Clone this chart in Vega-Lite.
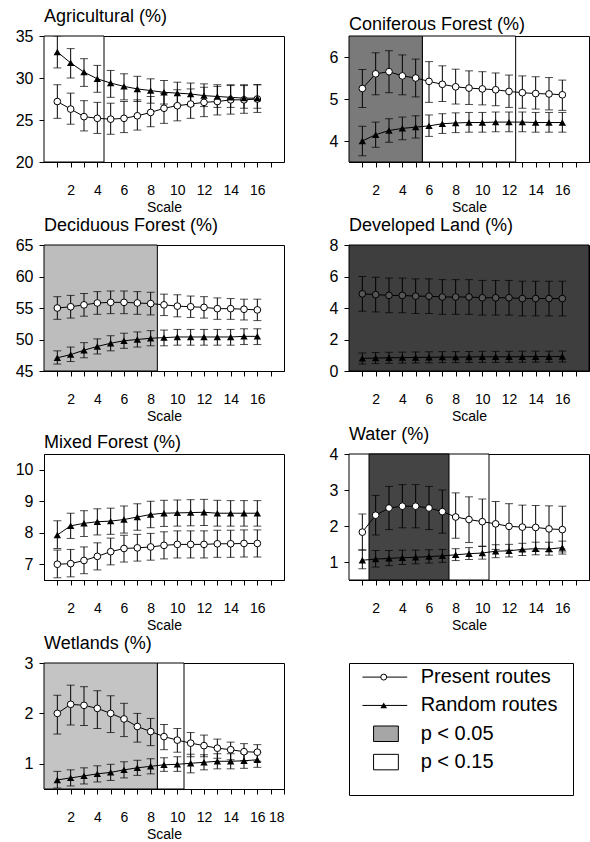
{
  "$schema": "https://vega.github.io/schema/vega-lite/v6.json",
  "padding": {"left": 13, "top": 7, "right": 0, "bottom": 0},
  "background": "white",
  "config": {
    "font": "Liberation Sans",
    "view": {"stroke": "black", "strokeWidth": 1},
    "title": {"anchor": "start", "frame": "group", "fontSize": 18, "fontWeight": "normal", "font": "Liberation Sans", "offset": 2, "color": "black"},
    "axis": {"domainColor": "black", "tickColor": "black", "labelColor": "black", "titleColor": "black", "labelFont": "Liberation Sans", "titleFont": "Liberation Sans", "titleFontSize": 14, "titleFontWeight": "normal", "grid": false, "tickSize": 5},
    "axisX": {"labelFontSize": 14, "labelExpr": "datum.value % 2 === 0 && datum.value > 0 && datum.value < 18 ? datum.label : ''", "labelPadding": 16, "titlePadding": 3, "labelFlush": true},
    "axisY": {"labelFontSize": 16, "labelPadding": 6, "minExtent": 30, "maxExtent": 30}
  },
  "datasets": {
    "agr": [
      {"route":"Random","scale":1,"mean":33.1,"lower":31.2,"upper":35.0},
      {"route":"Random","scale":2,"mean":31.8,"lower":30.0,"upper":33.5},
      {"route":"Random","scale":3,"mean":30.7,"lower":29.0,"upper":32.3},
      {"route":"Random","scale":4,"mean":29.9,"lower":28.3,"upper":31.5},
      {"route":"Random","scale":5,"mean":29.4,"lower":27.7,"upper":30.9},
      {"route":"Random","scale":6,"mean":29.0,"lower":27.4,"upper":30.5},
      {"route":"Random","scale":7,"mean":28.7,"lower":27.2,"upper":30.2},
      {"route":"Random","scale":8,"mean":28.5,"lower":27.0,"upper":29.9},
      {"route":"Random","scale":9,"mean":28.3,"lower":26.9,"upper":29.7},
      {"route":"Random","scale":10,"mean":28.2,"lower":26.8,"upper":29.5},
      {"route":"Random","scale":11,"mean":28.1,"lower":26.7,"upper":29.4},
      {"route":"Random","scale":12,"mean":27.9,"lower":26.6,"upper":29.3},
      {"route":"Random","scale":13,"mean":27.8,"lower":26.5,"upper":29.2},
      {"route":"Random","scale":14,"mean":27.7,"lower":26.5,"upper":29.2},
      {"route":"Random","scale":15,"mean":27.6,"lower":26.4,"upper":29.2},
      {"route":"Random","scale":16,"mean":27.6,"lower":26.4,"upper":29.2},
      {"route":"Present","scale":1,"mean":27.2,"lower":25.2,"upper":29.2},
      {"route":"Present","scale":2,"mean":26.3,"lower":24.5,"upper":28.2},
      {"route":"Present","scale":3,"mean":25.4,"lower":23.7,"upper":27.3},
      {"route":"Present","scale":4,"mean":25.2,"lower":23.4,"upper":27.1},
      {"route":"Present","scale":5,"mean":25.1,"lower":23.3,"upper":27.0},
      {"route":"Present","scale":6,"mean":25.2,"lower":23.5,"upper":27.2},
      {"route":"Present","scale":7,"mean":25.5,"lower":23.8,"upper":27.4},
      {"route":"Present","scale":8,"mean":25.9,"lower":24.2,"upper":27.8},
      {"route":"Present","scale":9,"mean":26.4,"lower":24.6,"upper":28.2},
      {"route":"Present","scale":10,"mean":26.7,"lower":24.9,"upper":28.6},
      {"route":"Present","scale":11,"mean":26.9,"lower":25.2,"upper":28.7},
      {"route":"Present","scale":12,"mean":27.1,"lower":25.4,"upper":28.9},
      {"route":"Present","scale":13,"mean":27.2,"lower":25.6,"upper":29.0},
      {"route":"Present","scale":14,"mean":27.4,"lower":25.7,"upper":29.1},
      {"route":"Present","scale":15,"mean":27.4,"lower":25.8,"upper":29.1},
      {"route":"Present","scale":16,"mean":27.5,"lower":25.9,"upper":29.2}
    ],
    "agr_sig": [{"level":"p<0.15","from":0,"to":4.5}],
    "con": [
      {"route":"Present","scale":1,"mean":5.25,"lower":4.8,"upper":5.7},
      {"route":"Present","scale":2,"mean":5.6,"lower":5.1,"upper":6.1},
      {"route":"Present","scale":3,"mean":5.65,"lower":5.15,"upper":6.15},
      {"route":"Present","scale":4,"mean":5.55,"lower":5.1,"upper":6.05},
      {"route":"Present","scale":5,"mean":5.5,"lower":5.05,"upper":5.95},
      {"route":"Present","scale":6,"mean":5.42,"lower":4.92,"upper":5.89},
      {"route":"Present","scale":7,"mean":5.35,"lower":4.94,"upper":5.79},
      {"route":"Present","scale":8,"mean":5.29,"lower":4.88,"upper":5.71},
      {"route":"Present","scale":9,"mean":5.26,"lower":4.87,"upper":5.67},
      {"route":"Present","scale":10,"mean":5.24,"lower":4.86,"upper":5.65},
      {"route":"Present","scale":11,"mean":5.22,"lower":4.84,"upper":5.62},
      {"route":"Present","scale":12,"mean":5.18,"lower":4.8,"upper":5.57},
      {"route":"Present","scale":13,"mean":5.15,"lower":4.78,"upper":5.55},
      {"route":"Present","scale":14,"mean":5.13,"lower":4.76,"upper":5.53},
      {"route":"Present","scale":15,"mean":5.12,"lower":4.74,"upper":5.51},
      {"route":"Present","scale":16,"mean":5.1,"lower":4.73,"upper":5.45},
      {"route":"Random","scale":1,"mean":4.0,"lower":3.65,"upper":4.35},
      {"route":"Random","scale":2,"mean":4.15,"lower":3.85,"upper":4.45},
      {"route":"Random","scale":3,"mean":4.25,"lower":3.97,"upper":4.53},
      {"route":"Random","scale":4,"mean":4.3,"lower":4.03,"upper":4.57},
      {"route":"Random","scale":5,"mean":4.33,"lower":4.07,"upper":4.6},
      {"route":"Random","scale":6,"mean":4.36,"lower":4.11,"upper":4.62},
      {"route":"Random","scale":7,"mean":4.41,"lower":4.18,"upper":4.65},
      {"route":"Random","scale":8,"mean":4.43,"lower":4.2,"upper":4.67},
      {"route":"Random","scale":9,"mean":4.44,"lower":4.21,"upper":4.68},
      {"route":"Random","scale":10,"mean":4.44,"lower":4.21,"upper":4.68},
      {"route":"Random","scale":11,"mean":4.45,"lower":4.22,"upper":4.69},
      {"route":"Random","scale":12,"mean":4.45,"lower":4.22,"upper":4.69},
      {"route":"Random","scale":13,"mean":4.45,"lower":4.22,"upper":4.69},
      {"route":"Random","scale":14,"mean":4.44,"lower":4.21,"upper":4.68},
      {"route":"Random","scale":15,"mean":4.44,"lower":4.21,"upper":4.68},
      {"route":"Random","scale":16,"mean":4.44,"lower":4.21,"upper":4.68}
    ],
    "con_sig": [{"level":"p<0.15","from":5.5,"to":12.5},{"level":"p<0.05","from":0,"to":5.5}],
    "dec": [
      {"route":"Present","scale":1,"mean":55.0,"lower":53.2,"upper":56.8},
      {"route":"Present","scale":2,"mean":55.2,"lower":53.4,"upper":57.0},
      {"route":"Present","scale":3,"mean":55.5,"lower":53.7,"upper":57.3},
      {"route":"Present","scale":4,"mean":55.8,"lower":54.0,"upper":57.6},
      {"route":"Present","scale":5,"mean":55.9,"lower":54.1,"upper":57.7},
      {"route":"Present","scale":6,"mean":55.9,"lower":54.1,"upper":57.7},
      {"route":"Present","scale":7,"mean":55.8,"lower":54.0,"upper":57.6},
      {"route":"Present","scale":8,"mean":55.7,"lower":53.9,"upper":57.5},
      {"route":"Present","scale":9,"mean":55.5,"lower":53.8,"upper":57.2},
      {"route":"Present","scale":10,"mean":55.3,"lower":53.6,"upper":57.1},
      {"route":"Present","scale":11,"mean":55.2,"lower":53.5,"upper":56.9},
      {"route":"Present","scale":12,"mean":55.1,"lower":53.4,"upper":56.8},
      {"route":"Present","scale":13,"mean":54.9,"lower":53.2,"upper":56.6},
      {"route":"Present","scale":14,"mean":54.9,"lower":53.2,"upper":56.5},
      {"route":"Present","scale":15,"mean":54.8,"lower":53.1,"upper":56.4},
      {"route":"Present","scale":16,"mean":54.7,"lower":53.0,"upper":56.4},
      {"route":"Random","scale":1,"mean":47.1,"lower":46.1,"upper":48.2},
      {"route":"Random","scale":2,"mean":47.6,"lower":46.5,"upper":48.8},
      {"route":"Random","scale":3,"mean":48.3,"lower":47.1,"upper":49.5},
      {"route":"Random","scale":4,"mean":48.9,"lower":47.7,"upper":50.1},
      {"route":"Random","scale":5,"mean":49.4,"lower":48.2,"upper":50.6},
      {"route":"Random","scale":6,"mean":49.8,"lower":48.6,"upper":51.0},
      {"route":"Random","scale":7,"mean":50.0,"lower":48.8,"upper":51.2},
      {"route":"Random","scale":8,"mean":50.2,"lower":49.0,"upper":51.4},
      {"route":"Random","scale":9,"mean":50.3,"lower":49.0,"upper":51.5},
      {"route":"Random","scale":10,"mean":50.4,"lower":49.1,"upper":51.6},
      {"route":"Random","scale":11,"mean":50.4,"lower":49.1,"upper":51.6},
      {"route":"Random","scale":12,"mean":50.4,"lower":49.1,"upper":51.6},
      {"route":"Random","scale":13,"mean":50.4,"lower":49.1,"upper":51.6},
      {"route":"Random","scale":14,"mean":50.4,"lower":49.1,"upper":51.6},
      {"route":"Random","scale":15,"mean":50.5,"lower":49.2,"upper":51.7},
      {"route":"Random","scale":16,"mean":50.5,"lower":49.2,"upper":51.7}
    ],
    "dec_sig": [{"level":"p<0.05","from":0,"to":8.5}],
    "dev": [
      {"route":"Present","scale":1,"mean":4.9,"lower":3.8,"upper":6.0},
      {"route":"Present","scale":2,"mean":4.85,"lower":3.75,"upper":5.95},
      {"route":"Present","scale":3,"mean":4.8,"lower":3.7,"upper":5.9},
      {"route":"Present","scale":4,"mean":4.8,"lower":3.7,"upper":5.9},
      {"route":"Present","scale":5,"mean":4.75,"lower":3.65,"upper":5.85},
      {"route":"Present","scale":6,"mean":4.75,"lower":3.65,"upper":5.85},
      {"route":"Present","scale":7,"mean":4.7,"lower":3.6,"upper":5.8},
      {"route":"Present","scale":8,"mean":4.7,"lower":3.6,"upper":5.8},
      {"route":"Present","scale":9,"mean":4.7,"lower":3.6,"upper":5.8},
      {"route":"Present","scale":10,"mean":4.65,"lower":3.55,"upper":5.75},
      {"route":"Present","scale":11,"mean":4.65,"lower":3.55,"upper":5.75},
      {"route":"Present","scale":12,"mean":4.65,"lower":3.55,"upper":5.75},
      {"route":"Present","scale":13,"mean":4.6,"lower":3.5,"upper":5.7},
      {"route":"Present","scale":14,"mean":4.6,"lower":3.5,"upper":5.7},
      {"route":"Present","scale":15,"mean":4.6,"lower":3.5,"upper":5.7},
      {"route":"Present","scale":16,"mean":4.6,"lower":3.5,"upper":5.7},
      {"route":"Random","scale":1,"mean":0.8,"lower":0.45,"upper":1.15},
      {"route":"Random","scale":2,"mean":0.82,"lower":0.47,"upper":1.17},
      {"route":"Random","scale":3,"mean":0.84,"lower":0.49,"upper":1.19},
      {"route":"Random","scale":4,"mean":0.85,"lower":0.5,"upper":1.2},
      {"route":"Random","scale":5,"mean":0.86,"lower":0.51,"upper":1.21},
      {"route":"Random","scale":6,"mean":0.87,"lower":0.52,"upper":1.22},
      {"route":"Random","scale":7,"mean":0.88,"lower":0.53,"upper":1.23},
      {"route":"Random","scale":8,"mean":0.88,"lower":0.53,"upper":1.23},
      {"route":"Random","scale":9,"mean":0.89,"lower":0.54,"upper":1.24},
      {"route":"Random","scale":10,"mean":0.9,"lower":0.55,"upper":1.25},
      {"route":"Random","scale":11,"mean":0.9,"lower":0.55,"upper":1.25},
      {"route":"Random","scale":12,"mean":0.9,"lower":0.55,"upper":1.25},
      {"route":"Random","scale":13,"mean":0.91,"lower":0.56,"upper":1.26},
      {"route":"Random","scale":14,"mean":0.91,"lower":0.56,"upper":1.26},
      {"route":"Random","scale":15,"mean":0.91,"lower":0.56,"upper":1.26},
      {"route":"Random","scale":16,"mean":0.92,"lower":0.57,"upper":1.27}
    ],
    "dev_sig": [{"level":"p<0.05","from":0,"to":18}],
    "mix": [
      {"route":"Random","scale":1,"mean":7.93,"lower":7.5,"upper":8.38},
      {"route":"Random","scale":2,"mean":8.22,"lower":7.82,"upper":8.62},
      {"route":"Random","scale":3,"mean":8.3,"lower":7.88,"upper":8.7},
      {"route":"Random","scale":4,"mean":8.35,"lower":7.93,"upper":8.76},
      {"route":"Random","scale":5,"mean":8.37,"lower":7.95,"upper":8.78},
      {"route":"Random","scale":6,"mean":8.42,"lower":7.99,"upper":8.85},
      {"route":"Random","scale":7,"mean":8.5,"lower":8.08,"upper":8.92},
      {"route":"Random","scale":8,"mean":8.58,"lower":8.16,"upper":9.0},
      {"route":"Random","scale":9,"mean":8.62,"lower":8.2,"upper":9.03},
      {"route":"Random","scale":10,"mean":8.63,"lower":8.21,"upper":9.04},
      {"route":"Random","scale":11,"mean":8.64,"lower":8.22,"upper":9.05},
      {"route":"Random","scale":12,"mean":8.65,"lower":8.23,"upper":9.06},
      {"route":"Random","scale":13,"mean":8.62,"lower":8.21,"upper":9.03},
      {"route":"Random","scale":14,"mean":8.62,"lower":8.21,"upper":9.02},
      {"route":"Random","scale":15,"mean":8.62,"lower":8.21,"upper":9.02},
      {"route":"Random","scale":16,"mean":8.62,"lower":8.21,"upper":9.02},
      {"route":"Present","scale":1,"mean":7.0,"lower":6.57,"upper":7.45},
      {"route":"Present","scale":2,"mean":7.02,"lower":6.6,"upper":7.47},
      {"route":"Present","scale":3,"mean":7.12,"lower":6.7,"upper":7.55},
      {"route":"Present","scale":4,"mean":7.25,"lower":6.82,"upper":7.68},
      {"route":"Present","scale":5,"mean":7.4,"lower":6.98,"upper":7.83},
      {"route":"Present","scale":6,"mean":7.5,"lower":7.07,"upper":7.92},
      {"route":"Present","scale":7,"mean":7.52,"lower":7.1,"upper":7.95},
      {"route":"Present","scale":8,"mean":7.55,"lower":7.13,"upper":7.98},
      {"route":"Present","scale":9,"mean":7.6,"lower":7.17,"upper":8.03},
      {"route":"Present","scale":10,"mean":7.63,"lower":7.2,"upper":8.06},
      {"route":"Present","scale":11,"mean":7.63,"lower":7.2,"upper":8.06},
      {"route":"Present","scale":12,"mean":7.63,"lower":7.2,"upper":8.06},
      {"route":"Present","scale":13,"mean":7.65,"lower":7.22,"upper":8.08},
      {"route":"Present","scale":14,"mean":7.65,"lower":7.22,"upper":8.08},
      {"route":"Present","scale":15,"mean":7.66,"lower":7.23,"upper":8.09},
      {"route":"Present","scale":16,"mean":7.66,"lower":7.23,"upper":8.09}
    ],
    "wat": [
      {"route":"Present","scale":1,"mean":1.83,"lower":1.33,"upper":2.33},
      {"route":"Present","scale":2,"mean":2.3,"lower":1.75,"upper":2.85},
      {"route":"Present","scale":3,"mean":2.5,"lower":1.9,"upper":3.1},
      {"route":"Present","scale":4,"mean":2.55,"lower":1.95,"upper":3.15},
      {"route":"Present","scale":5,"mean":2.55,"lower":1.95,"upper":3.15},
      {"route":"Present","scale":6,"mean":2.5,"lower":1.9,"upper":3.1},
      {"route":"Present","scale":7,"mean":2.4,"lower":1.8,"upper":3.0},
      {"route":"Present","scale":8,"mean":2.25,"lower":1.66,"upper":2.92},
      {"route":"Present","scale":9,"mean":2.18,"lower":1.54,"upper":2.81},
      {"route":"Present","scale":10,"mean":2.12,"lower":1.44,"upper":2.75},
      {"route":"Present","scale":11,"mean":2.06,"lower":1.35,"upper":2.68},
      {"route":"Present","scale":12,"mean":1.99,"lower":1.33,"upper":2.62},
      {"route":"Present","scale":13,"mean":1.97,"lower":1.3,"upper":2.58},
      {"route":"Present","scale":14,"mean":1.96,"lower":1.3,"upper":2.57},
      {"route":"Present","scale":15,"mean":1.92,"lower":1.29,"upper":2.56},
      {"route":"Present","scale":16,"mean":1.9,"lower":1.28,"upper":2.55},
      {"route":"Random","scale":1,"mean":1.05,"lower":0.81,"upper":1.33},
      {"route":"Random","scale":2,"mean":1.08,"lower":0.86,"upper":1.32},
      {"route":"Random","scale":3,"mean":1.1,"lower":0.9,"upper":1.32},
      {"route":"Random","scale":4,"mean":1.12,"lower":0.93,"upper":1.33},
      {"route":"Random","scale":5,"mean":1.13,"lower":0.95,"upper":1.33},
      {"route":"Random","scale":6,"mean":1.15,"lower":0.97,"upper":1.34},
      {"route":"Random","scale":7,"mean":1.17,"lower":0.99,"upper":1.35},
      {"route":"Random","scale":8,"mean":1.2,"lower":1.04,"upper":1.37},
      {"route":"Random","scale":9,"mean":1.23,"lower":1.07,"upper":1.4},
      {"route":"Random","scale":10,"mean":1.25,"lower":1.08,"upper":1.43},
      {"route":"Random","scale":11,"mean":1.3,"lower":1.12,"upper":1.48},
      {"route":"Random","scale":12,"mean":1.31,"lower":1.14,"upper":1.49},
      {"route":"Random","scale":13,"mean":1.35,"lower":1.18,"upper":1.52},
      {"route":"Random","scale":14,"mean":1.37,"lower":1.2,"upper":1.55},
      {"route":"Random","scale":15,"mean":1.36,"lower":1.19,"upper":1.55},
      {"route":"Random","scale":16,"mean":1.4,"lower":1.22,"upper":1.58}
    ],
    "wat_sig": [{"level":"p<0.15","from":0,"to":10.5},{"level":"p<0.05","from":1.5,"to":7.5}],
    "wet": [
      {"route":"Present","scale":1,"mean":2.0,"lower":1.59,"upper":2.36},
      {"route":"Present","scale":2,"mean":2.18,"lower":1.77,"upper":2.56},
      {"route":"Present","scale":3,"mean":2.16,"lower":1.76,"upper":2.53},
      {"route":"Present","scale":4,"mean":2.1,"lower":1.7,"upper":2.45},
      {"route":"Present","scale":5,"mean":2.0,"lower":1.62,"upper":2.35},
      {"route":"Present","scale":6,"mean":1.89,"lower":1.54,"upper":2.2},
      {"route":"Present","scale":7,"mean":1.74,"lower":1.43,"upper":2.0},
      {"route":"Present","scale":8,"mean":1.64,"lower":1.36,"upper":1.9},
      {"route":"Present","scale":9,"mean":1.54,"lower":1.28,"upper":1.78},
      {"route":"Present","scale":10,"mean":1.47,"lower":1.23,"upper":1.7},
      {"route":"Present","scale":11,"mean":1.41,"lower":1.14,"upper":1.62},
      {"route":"Present","scale":12,"mean":1.36,"lower":1.14,"upper":1.57},
      {"route":"Present","scale":13,"mean":1.31,"lower":1.11,"upper":1.49},
      {"route":"Present","scale":14,"mean":1.28,"lower":1.08,"upper":1.43},
      {"route":"Present","scale":15,"mean":1.24,"lower":1.06,"upper":1.4},
      {"route":"Present","scale":16,"mean":1.23,"lower":1.05,"upper":1.38},
      {"route":"Random","scale":1,"mean":0.68,"lower":0.52,"upper":0.85},
      {"route":"Random","scale":2,"mean":0.72,"lower":0.56,"upper":0.88},
      {"route":"Random","scale":3,"mean":0.76,"lower":0.6,"upper":0.92},
      {"route":"Random","scale":4,"mean":0.8,"lower":0.64,"upper":0.96},
      {"route":"Random","scale":5,"mean":0.83,"lower":0.67,"upper":0.99},
      {"route":"Random","scale":6,"mean":0.88,"lower":0.72,"upper":1.04},
      {"route":"Random","scale":7,"mean":0.92,"lower":0.77,"upper":1.07},
      {"route":"Random","scale":8,"mean":0.95,"lower":0.8,"upper":1.1},
      {"route":"Random","scale":9,"mean":0.98,"lower":0.85,"upper":1.12},
      {"route":"Random","scale":10,"mean":0.99,"lower":0.85,"upper":1.14},
      {"route":"Random","scale":11,"mean":1.01,"lower":0.82,"upper":1.19},
      {"route":"Random","scale":12,"mean":1.03,"lower":0.88,"upper":1.18},
      {"route":"Random","scale":13,"mean":1.05,"lower":0.9,"upper":1.2},
      {"route":"Random","scale":14,"mean":1.05,"lower":0.9,"upper":1.2},
      {"route":"Random","scale":15,"mean":1.06,"lower":0.91,"upper":1.21},
      {"route":"Random","scale":16,"mean":1.08,"lower":0.93,"upper":1.23}
    ],
    "wet_sig": [{"level":"p<0.15","from":8.5,"to":10.5},{"level":"p<0.05","from":0,"to":8.5}],
    "legend": [
      {"label":"Present routes","kind":"Present"},
      {"label":"Random routes","kind":"Random"},
      {"label":"p < 0.05","kind":"p05"},
      {"label":"p < 0.15","kind":"p15"}
    ]
  },
  "columns": 2,
  "spacing": {"row": 1, "column": 33},
  "concat": [
    {
      "width": 240, "height": 126,
      "title": "Agricultural (%)",
      "layer": [
        {"data": {"name": "agr_sig"}, "mark": {"type": "rect", "fill": "white", "stroke": "black", "strokeWidth": 1}, "encoding": {"x": {"field": "from", "type": "quantitative", "title": "Scale", "scale": {"domain": [0, 18], "nice": false}, "axis": {"values": [1,2,3,4,5,6,7,8,9,10,11,12,13,14,15,16,17]}}, "x2": {"field": "to"}}},
        {"data": {"name": "agr"}, "mark": {"type": "line", "color": "black", "strokeWidth": 1}, "encoding": {"x": {"field": "scale", "type": "quantitative", "title": "Scale", "axis": {"values": [1,2,3,4,5,6,7,8,9,10,11,12,13,14,15,16,17]}}, "y": {"field": "mean", "type": "quantitative", "title": null, "scale": {"domain": [20, 35], "nice": false, "zero": false}, "axis": {"values": [20, 25, 30, 35], "format": "d"}}, "detail": {"field": "route"}}},
        {"data": {"name": "agr"}, "mark": {"type": "errorbar", "color": "black", "ticks": {"size": 8}, "clip": true}, "encoding": {"x": {"field": "scale", "type": "quantitative", "title": "Scale", "axis": {"values": [1,2,3,4,5,6,7,8,9,10,11,12,13,14,15,16,17]}}, "y": {"field": "lower", "type": "quantitative", "title": null, "axis": {"values": [20, 25, 30, 35], "format": "d"}}, "y2": {"field": "upper"}}},
        {"data": {"name": "agr"}, "transform": [{"filter": "datum.route === 'Present'"}], "mark": {"type": "point", "shape": "circle", "filled": true, "fill": "white", "stroke": "black", "strokeWidth": 1, "size": 45, "opacity": 1}, "encoding": {"x": {"field": "scale", "type": "quantitative", "title": "Scale", "axis": {"values": [1,2,3,4,5,6,7,8,9,10,11,12,13,14,15,16,17]}}, "y": {"field": "mean", "type": "quantitative", "title": null, "axis": {"values": [20, 25, 30, 35], "format": "d"}}}},
        {"data": {"name": "agr"}, "transform": [{"filter": "datum.route === 'Random'"}], "mark": {"type": "point", "shape": "triangle-up", "filled": true, "color": "black", "size": 55, "opacity": 1}, "encoding": {"x": {"field": "scale", "type": "quantitative", "title": "Scale", "axis": {"values": [1,2,3,4,5,6,7,8,9,10,11,12,13,14,15,16,17]}}, "y": {"field": "mean", "type": "quantitative", "title": null, "axis": {"values": [20, 25, 30, 35], "format": "d"}}}}
      ]
    },
    {
      "width": 240, "height": 126,
      "title": "Coniferous Forest (%)",
      "layer": [
        {"data": {"name": "con_sig"}, "transform": [{"filter": "datum.level === 'p<0.15'"}], "mark": {"type": "rect", "fill": "white", "stroke": "black", "strokeWidth": 1}, "encoding": {"x": {"field": "from", "type": "quantitative", "title": "Scale", "scale": {"domain": [0, 18], "nice": false}, "axis": {"values": [1,2,3,4,5,6,7,8,9,10,11,12,13,14,15,16,17]}}, "x2": {"field": "to"}}},
        {"data": {"name": "con_sig"}, "transform": [{"filter": "datum.level === 'p<0.05'"}], "mark": {"type": "rect", "fill": "#7a7a7a", "stroke": "black", "strokeWidth": 1}, "encoding": {"x": {"field": "from", "type": "quantitative", "title": "Scale", "axis": {"values": [1,2,3,4,5,6,7,8,9,10,11,12,13,14,15,16,17]}}, "x2": {"field": "to"}}},
        {"data": {"name": "con"}, "mark": {"type": "line", "color": "black", "strokeWidth": 1}, "encoding": {"x": {"field": "scale", "type": "quantitative", "title": "Scale", "axis": {"values": [1,2,3,4,5,6,7,8,9,10,11,12,13,14,15,16,17]}}, "y": {"field": "mean", "type": "quantitative", "title": null, "scale": {"domain": [3.5, 6.5], "nice": false, "zero": false}, "axis": {"values": [4, 5, 6], "format": "d"}}, "detail": {"field": "route"}}},
        {"data": {"name": "con"}, "mark": {"type": "errorbar", "color": "black", "ticks": {"size": 8}}, "encoding": {"x": {"field": "scale", "type": "quantitative", "title": "Scale", "axis": {"values": [1,2,3,4,5,6,7,8,9,10,11,12,13,14,15,16,17]}}, "y": {"field": "lower", "type": "quantitative", "title": null, "axis": {"values": [4, 5, 6], "format": "d"}}, "y2": {"field": "upper"}}},
        {"data": {"name": "con"}, "transform": [{"filter": "datum.route === 'Present'"}], "mark": {"type": "point", "shape": "circle", "filled": true, "fill": "white", "stroke": "black", "strokeWidth": 1, "size": 45, "opacity": 1}, "encoding": {"x": {"field": "scale", "type": "quantitative", "title": "Scale", "axis": {"values": [1,2,3,4,5,6,7,8,9,10,11,12,13,14,15,16,17]}}, "y": {"field": "mean", "type": "quantitative", "title": null, "axis": {"values": [4, 5, 6], "format": "d"}}}},
        {"data": {"name": "con"}, "transform": [{"filter": "datum.route === 'Random'"}], "mark": {"type": "point", "shape": "triangle-up", "filled": true, "color": "black", "size": 55, "opacity": 1}, "encoding": {"x": {"field": "scale", "type": "quantitative", "title": "Scale", "axis": {"values": [1,2,3,4,5,6,7,8,9,10,11,12,13,14,15,16,17]}}, "y": {"field": "mean", "type": "quantitative", "title": null, "axis": {"values": [4, 5, 6], "format": "d"}}}}
      ]
    },
    {
      "width": 240, "height": 126,
      "title": "Deciduous Forest (%)",
      "layer": [
        {"data": {"name": "dec_sig"}, "mark": {"type": "rect", "fill": "#bdbdbd", "stroke": "black", "strokeWidth": 1}, "encoding": {"x": {"field": "from", "type": "quantitative", "title": "Scale", "scale": {"domain": [0, 18], "nice": false}, "axis": {"values": [1,2,3,4,5,6,7,8,9,10,11,12,13,14,15,16,17]}}, "x2": {"field": "to"}}},
        {"data": {"name": "dec"}, "mark": {"type": "line", "color": "black", "strokeWidth": 1}, "encoding": {"x": {"field": "scale", "type": "quantitative", "title": "Scale", "axis": {"values": [1,2,3,4,5,6,7,8,9,10,11,12,13,14,15,16,17]}}, "y": {"field": "mean", "type": "quantitative", "title": null, "scale": {"domain": [45, 65], "nice": false, "zero": false}, "axis": {"values": [45, 50, 55, 60, 65], "format": "d"}}, "detail": {"field": "route"}}},
        {"data": {"name": "dec"}, "mark": {"type": "errorbar", "color": "black", "ticks": {"size": 8}}, "encoding": {"x": {"field": "scale", "type": "quantitative", "title": "Scale", "axis": {"values": [1,2,3,4,5,6,7,8,9,10,11,12,13,14,15,16,17]}}, "y": {"field": "lower", "type": "quantitative", "title": null, "axis": {"values": [45, 50, 55, 60, 65], "format": "d"}}, "y2": {"field": "upper"}}},
        {"data": {"name": "dec"}, "transform": [{"filter": "datum.route === 'Present'"}], "mark": {"type": "point", "shape": "circle", "filled": true, "fill": "white", "stroke": "black", "strokeWidth": 1, "size": 45, "opacity": 1}, "encoding": {"x": {"field": "scale", "type": "quantitative", "title": "Scale", "axis": {"values": [1,2,3,4,5,6,7,8,9,10,11,12,13,14,15,16,17]}}, "y": {"field": "mean", "type": "quantitative", "title": null, "axis": {"values": [45, 50, 55, 60, 65], "format": "d"}}}},
        {"data": {"name": "dec"}, "transform": [{"filter": "datum.route === 'Random'"}], "mark": {"type": "point", "shape": "triangle-up", "filled": true, "color": "black", "size": 55, "opacity": 1}, "encoding": {"x": {"field": "scale", "type": "quantitative", "title": "Scale", "axis": {"values": [1,2,3,4,5,6,7,8,9,10,11,12,13,14,15,16,17]}}, "y": {"field": "mean", "type": "quantitative", "title": null, "axis": {"values": [45, 50, 55, 60, 65], "format": "d"}}}}
      ]
    },
    {
      "width": 240, "height": 126,
      "title": "Developed Land (%)",
      "layer": [
        {"data": {"name": "dev_sig"}, "mark": {"type": "rect", "fill": "#3e3e3e", "stroke": "black", "strokeWidth": 1}, "encoding": {"x": {"field": "from", "type": "quantitative", "title": "Scale", "scale": {"domain": [0, 18], "nice": false}, "axis": {"values": [1,2,3,4,5,6,7,8,9,10,11,12,13,14,15,16,17]}}, "x2": {"field": "to"}}},
        {"data": {"name": "dev"}, "mark": {"type": "line", "color": "black", "strokeWidth": 1}, "encoding": {"x": {"field": "scale", "type": "quantitative", "title": "Scale", "axis": {"values": [1,2,3,4,5,6,7,8,9,10,11,12,13,14,15,16,17]}}, "y": {"field": "mean", "type": "quantitative", "title": null, "scale": {"domain": [0, 8], "nice": false}, "axis": {"values": [0, 2, 4, 6, 8], "format": "d"}}, "detail": {"field": "route"}}},
        {"data": {"name": "dev"}, "mark": {"type": "errorbar", "color": "black", "ticks": {"size": 8}}, "encoding": {"x": {"field": "scale", "type": "quantitative", "title": "Scale", "axis": {"values": [1,2,3,4,5,6,7,8,9,10,11,12,13,14,15,16,17]}}, "y": {"field": "lower", "type": "quantitative", "title": null, "axis": {"values": [0, 2, 4, 6, 8], "format": "d"}}, "y2": {"field": "upper"}}},
        {"data": {"name": "dev"}, "transform": [{"filter": "datum.route === 'Present'"}], "mark": {"type": "point", "shape": "circle", "filled": true, "fill": "#555555", "stroke": "black", "strokeWidth": 1, "size": 45, "opacity": 1}, "encoding": {"x": {"field": "scale", "type": "quantitative", "title": "Scale", "axis": {"values": [1,2,3,4,5,6,7,8,9,10,11,12,13,14,15,16,17]}}, "y": {"field": "mean", "type": "quantitative", "title": null, "axis": {"values": [0, 2, 4, 6, 8], "format": "d"}}}},
        {"data": {"name": "dev"}, "transform": [{"filter": "datum.route === 'Random'"}], "mark": {"type": "point", "shape": "triangle-up", "filled": true, "color": "black", "size": 55, "opacity": 1}, "encoding": {"x": {"field": "scale", "type": "quantitative", "title": "Scale", "axis": {"values": [1,2,3,4,5,6,7,8,9,10,11,12,13,14,15,16,17]}}, "y": {"field": "mean", "type": "quantitative", "title": null, "axis": {"values": [0, 2, 4, 6, 8], "format": "d"}}}}
      ]
    },
    {
      "width": 240, "height": 126,
      "title": "Mixed Forest (%)",
      "layer": [
        {"data": {"name": "mix"}, "mark": {"type": "line", "color": "black", "strokeWidth": 1}, "encoding": {"x": {"field": "scale", "type": "quantitative", "title": "Scale", "scale": {"domain": [0, 18], "nice": false}, "axis": {"values": [1,2,3,4,5,6,7,8,9,10,11,12,13,14,15,16,17]}}, "y": {"field": "mean", "type": "quantitative", "title": null, "scale": {"domain": [6.5, 10.5], "nice": false, "zero": false}, "axis": {"values": [7, 8, 9, 10], "format": "d"}}, "detail": {"field": "route"}}},
        {"data": {"name": "mix"}, "mark": {"type": "errorbar", "color": "black", "ticks": {"size": 8}}, "encoding": {"x": {"field": "scale", "type": "quantitative", "title": "Scale", "axis": {"values": [1,2,3,4,5,6,7,8,9,10,11,12,13,14,15,16,17]}}, "y": {"field": "lower", "type": "quantitative", "title": null, "axis": {"values": [7, 8, 9, 10], "format": "d"}}, "y2": {"field": "upper"}}},
        {"data": {"name": "mix"}, "transform": [{"filter": "datum.route === 'Present'"}], "mark": {"type": "point", "shape": "circle", "filled": true, "fill": "white", "stroke": "black", "strokeWidth": 1, "size": 45, "opacity": 1}, "encoding": {"x": {"field": "scale", "type": "quantitative", "title": "Scale", "axis": {"values": [1,2,3,4,5,6,7,8,9,10,11,12,13,14,15,16,17]}}, "y": {"field": "mean", "type": "quantitative", "title": null, "axis": {"values": [7, 8, 9, 10], "format": "d"}}}},
        {"data": {"name": "mix"}, "transform": [{"filter": "datum.route === 'Random'"}], "mark": {"type": "point", "shape": "triangle-up", "filled": true, "color": "black", "size": 55, "opacity": 1}, "encoding": {"x": {"field": "scale", "type": "quantitative", "title": "Scale", "axis": {"values": [1,2,3,4,5,6,7,8,9,10,11,12,13,14,15,16,17]}}, "y": {"field": "mean", "type": "quantitative", "title": null, "axis": {"values": [7, 8, 9, 10], "format": "d"}}}}
      ]
    },
    {
      "width": 240, "height": 126,
      "title": "Water (%)",
      "layer": [
        {"data": {"name": "wat_sig"}, "transform": [{"filter": "datum.level === 'p<0.15'"}], "mark": {"type": "rect", "fill": "white", "stroke": "black", "strokeWidth": 1}, "encoding": {"x": {"field": "from", "type": "quantitative", "title": "Scale", "scale": {"domain": [0, 18], "nice": false}, "axis": {"values": [1,2,3,4,5,6,7,8,9,10,11,12,13,14,15,16,17]}}, "x2": {"field": "to"}}},
        {"data": {"name": "wat_sig"}, "transform": [{"filter": "datum.level === 'p<0.05'"}], "mark": {"type": "rect", "fill": "#444444", "stroke": "black", "strokeWidth": 1}, "encoding": {"x": {"field": "from", "type": "quantitative", "title": "Scale", "axis": {"values": [1,2,3,4,5,6,7,8,9,10,11,12,13,14,15,16,17]}}, "x2": {"field": "to"}}},
        {"data": {"name": "wat"}, "mark": {"type": "line", "color": "black", "strokeWidth": 1}, "encoding": {"x": {"field": "scale", "type": "quantitative", "title": "Scale", "axis": {"values": [1,2,3,4,5,6,7,8,9,10,11,12,13,14,15,16,17]}}, "y": {"field": "mean", "type": "quantitative", "title": null, "scale": {"domain": [0.5, 4], "nice": false, "zero": false}, "axis": {"values": [1, 2, 3, 4], "format": "d"}}, "detail": {"field": "route"}}},
        {"data": {"name": "wat"}, "mark": {"type": "errorbar", "color": "black", "ticks": {"size": 8}}, "encoding": {"x": {"field": "scale", "type": "quantitative", "title": "Scale", "axis": {"values": [1,2,3,4,5,6,7,8,9,10,11,12,13,14,15,16,17]}}, "y": {"field": "lower", "type": "quantitative", "title": null, "axis": {"values": [1, 2, 3, 4], "format": "d"}}, "y2": {"field": "upper"}}},
        {"data": {"name": "wat"}, "transform": [{"filter": "datum.route === 'Present'"}], "mark": {"type": "point", "shape": "circle", "filled": true, "fill": "white", "stroke": "black", "strokeWidth": 1, "size": 45, "opacity": 1}, "encoding": {"x": {"field": "scale", "type": "quantitative", "title": "Scale", "axis": {"values": [1,2,3,4,5,6,7,8,9,10,11,12,13,14,15,16,17]}}, "y": {"field": "mean", "type": "quantitative", "title": null, "axis": {"values": [1, 2, 3, 4], "format": "d"}}}},
        {"data": {"name": "wat"}, "transform": [{"filter": "datum.route === 'Random'"}], "mark": {"type": "point", "shape": "triangle-up", "filled": true, "color": "black", "size": 55, "opacity": 1}, "encoding": {"x": {"field": "scale", "type": "quantitative", "title": "Scale", "axis": {"values": [1,2,3,4,5,6,7,8,9,10,11,12,13,14,15,16,17]}}, "y": {"field": "mean", "type": "quantitative", "title": null, "axis": {"values": [1, 2, 3, 4], "format": "d"}}}}
      ]
    },
    {
      "width": 240, "height": 126,
      "title": "Wetlands (%)",
      "layer": [
        {"data": {"name": "wet_sig"}, "transform": [{"filter": "datum.level === 'p<0.15'"}], "mark": {"type": "rect", "fill": "white", "stroke": "black", "strokeWidth": 1}, "encoding": {"x": {"field": "from", "type": "quantitative", "title": "Scale", "scale": {"domain": [0, 18], "nice": false}, "axis": {"values": [1,2,3,4,5,6,7,8,9,10,11,12,13,14,15,16,17,18], "labelExpr": "datum.value % 2 === 0 ? datum.label : ''"}}, "x2": {"field": "to"}}},
        {"data": {"name": "wet_sig"}, "transform": [{"filter": "datum.level === 'p<0.05'"}], "mark": {"type": "rect", "fill": "#c4c4c4", "stroke": "black", "strokeWidth": 1}, "encoding": {"x": {"field": "from", "type": "quantitative", "title": "Scale", "axis": {"values": [1,2,3,4,5,6,7,8,9,10,11,12,13,14,15,16,17,18], "labelExpr": "datum.value % 2 === 0 ? datum.label : ''"}}, "x2": {"field": "to"}}},
        {"data": {"name": "wet"}, "mark": {"type": "line", "color": "black", "strokeWidth": 1}, "encoding": {"x": {"field": "scale", "type": "quantitative", "title": "Scale", "axis": {"values": [1,2,3,4,5,6,7,8,9,10,11,12,13,14,15,16,17,18], "labelExpr": "datum.value % 2 === 0 ? datum.label : ''"}}, "y": {"field": "mean", "type": "quantitative", "title": null, "scale": {"domain": [0.5, 3], "nice": false, "zero": false}, "axis": {"values": [1, 2, 3], "format": "d"}}, "detail": {"field": "route"}}},
        {"data": {"name": "wet"}, "mark": {"type": "errorbar", "color": "black", "ticks": {"size": 8}}, "encoding": {"x": {"field": "scale", "type": "quantitative", "title": "Scale", "axis": {"values": [1,2,3,4,5,6,7,8,9,10,11,12,13,14,15,16,17,18], "labelExpr": "datum.value % 2 === 0 ? datum.label : ''"}}, "y": {"field": "lower", "type": "quantitative", "title": null, "axis": {"values": [1, 2, 3], "format": "d"}}, "y2": {"field": "upper"}}},
        {"data": {"name": "wet"}, "transform": [{"filter": "datum.route === 'Present'"}], "mark": {"type": "point", "shape": "circle", "filled": true, "fill": "white", "stroke": "black", "strokeWidth": 1, "size": 45, "opacity": 1}, "encoding": {"x": {"field": "scale", "type": "quantitative", "title": "Scale", "axis": {"values": [1,2,3,4,5,6,7,8,9,10,11,12,13,14,15,16,17,18], "labelExpr": "datum.value % 2 === 0 ? datum.label : ''"}}, "y": {"field": "mean", "type": "quantitative", "title": null, "axis": {"values": [1, 2, 3], "format": "d"}}}},
        {"data": {"name": "wet"}, "transform": [{"filter": "datum.route === 'Random'"}], "mark": {"type": "point", "shape": "triangle-up", "filled": true, "color": "black", "size": 55, "opacity": 1}, "encoding": {"x": {"field": "scale", "type": "quantitative", "title": "Scale", "axis": {"values": [1,2,3,4,5,6,7,8,9,10,11,12,13,14,15,16,17,18], "labelExpr": "datum.value % 2 === 0 ? datum.label : ''"}}, "y": {"field": "mean", "type": "quantitative", "title": null, "axis": {"values": [1, 2, 3], "format": "d"}}}}
      ]
    },
    {
      "width": 224, "height": 132,
      "title": {"text": " ", "offset": 7},
      "data": {"name": "legend"},
      "encoding": {
        "y": {"field": "label", "type": "nominal", "scale": {"type": "point", "domain": ["Present routes", "Random routes", "p < 0.05", "p < 0.15"], "padding": 0.83, "align": 0.3}, "axis": null}
      },
      "layer": [
        {"transform": [{"filter": "datum.kind === 'Present' || datum.kind === 'Random'"}], "mark": {"type": "rule", "color": "black", "strokeWidth": 1}, "encoding": {"x": {"datum": 0.06, "type": "quantitative", "scale": {"domain": [0, 1], "nice": false}, "axis": null}, "x2": {"datum": 0.26}}},
        {"transform": [{"filter": "datum.kind === 'Present'"}], "mark": {"type": "point", "shape": "circle", "filled": true, "fill": "white", "stroke": "black", "strokeWidth": 1, "size": 35, "opacity": 1}, "encoding": {"x": {"datum": 0.155, "type": "quantitative"}}},
        {"transform": [{"filter": "datum.kind === 'Random'"}], "mark": {"type": "point", "shape": "triangle-up", "filled": true, "color": "black", "size": 45, "opacity": 1}, "encoding": {"x": {"datum": 0.155, "type": "quantitative"}}},
        {"transform": [{"filter": "datum.kind === 'p05'"}], "mark": {"type": "point", "shape": "M-1.6,-1L1.6,-1L1.6,1L-1.6,1Z", "filled": true, "fill": "#a6a6a6", "stroke": "black", "strokeWidth": 1, "size": 240, "opacity": 1}, "encoding": {"x": {"datum": 0.165, "type": "quantitative"}}},
        {"transform": [{"filter": "datum.kind === 'p15'"}], "mark": {"type": "point", "shape": "M-1.6,-1L1.6,-1L1.6,1L-1.6,1Z", "filled": true, "fill": "white", "stroke": "black", "strokeWidth": 1, "size": 240, "opacity": 1}, "encoding": {"x": {"datum": 0.165, "type": "quantitative"}}},
        {"mark": {"type": "text", "align": "left", "baseline": "middle", "fontSize": 20, "font": "Liberation Sans", "color": "black"}, "encoding": {"x": {"datum": 0.32, "type": "quantitative"}, "text": {"field": "label"}}}
      ]
    }
  ]
}
